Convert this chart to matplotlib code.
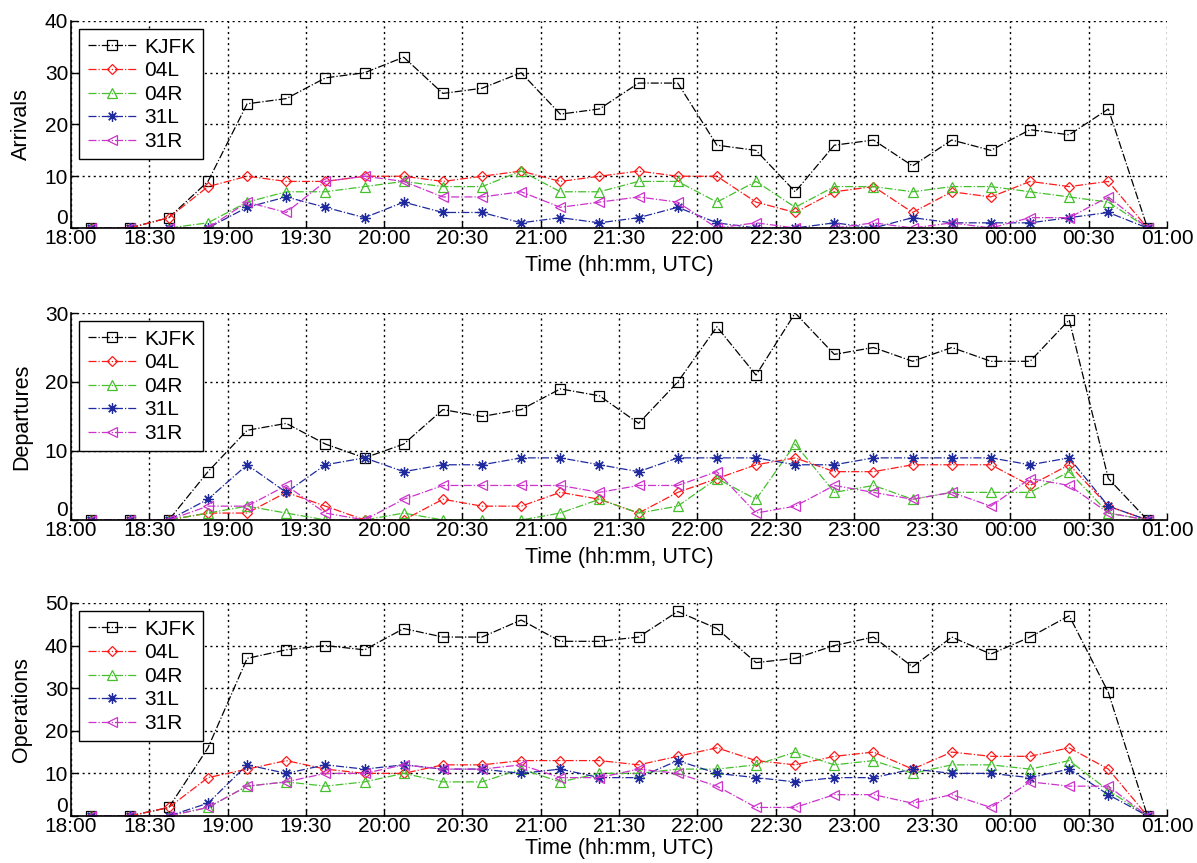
import matplotlib
matplotlib.use("Agg")
from matplotlib import pyplot as plt

plt.rcParams["font.family"] = ["Liberation Sans", "DejaVu Sans"]
plt.rcParams["font.size"] = 15

# 15-minute bin centres (UTC)
TIMES = [
    "18:07:30", "18:22:30", "18:37:30", "18:52:30", "19:07:30", "19:22:30", "19:37:30",
    "19:52:30", "20:07:30", "20:22:30", "20:37:30", "20:52:30", "21:07:30", "21:22:30",
    "21:37:30", "21:52:30", "22:07:30", "22:22:30", "22:37:30", "22:52:30", "23:07:30",
    "23:22:30", "23:37:30", "23:52:30", "00:07:30", "00:22:30", "00:37:30", "00:52:30",
]
TICK_LABELS = [
    "18:00", "18:30", "19:00", "19:30", "20:00", "20:30", "21:00", "21:30",
    "22:00", "22:30", "23:00", "23:30", "00:00", "00:30", "01:00",
]

ARR_KJFK = [0, 0, 2, 9, 24, 25, 29, 30, 33, 26, 27, 30, 22, 23, 28, 28, 16, 15, 7, 16, 17, 12, 17, 15, 19, 18, 23, 0]
ARR_04L = [0, 0, 2, 8, 10, 9, 9, 10, 10, 9, 10, 11, 9, 10, 11, 10, 10, 5, 3, 7, 8, 3, 7, 6, 9, 8, 9, 0]
ARR_04R = [0, 0, 0, 1, 5, 7, 7, 8, 9, 8, 8, 11, 7, 7, 9, 9, 5, 9, 4, 8, 8, 7, 8, 8, 7, 6, 5, 0]
ARR_31L = [0, 0, 0, 0, 4, 6, 4, 2, 5, 3, 3, 1, 2, 1, 2, 4, 1, 0, 0, 1, 0, 2, 1, 1, 1, 2, 3, 0]
ARR_31R = [0, 0, 0, 0, 5, 3, 9, 10, 9, 6, 6, 7, 4, 5, 6, 5, 0, 1, 0, 0, 1, 0, 1, 0, 2, 2, 6, 0]

DEP_KJFK = [0, 0, 0, 7, 13, 14, 11, 9, 11, 16, 15, 16, 19, 18, 14, 20, 28, 21, 30, 24, 25, 23, 25, 23, 23, 29, 6, 0]
DEP_04L = [0, 0, 0, 1, 1, 4, 2, 0, 0, 3, 2, 2, 4, 3, 1, 4, 6, 8, 9, 7, 7, 8, 8, 8, 5, 8, 2, 0]
DEP_04R = [0, 0, 0, 1, 2, 1, 0, 0, 1, 0, 0, 0, 1, 3, 1, 2, 6, 3, 11, 4, 5, 3, 4, 4, 4, 7, 1, 0]
DEP_31L = [0, 0, 0, 3, 8, 4, 8, 9, 7, 8, 8, 9, 9, 8, 7, 9, 9, 9, 8, 8, 9, 9, 9, 9, 8, 9, 2, 0]
DEP_31R = [0, 0, 0, 2, 2, 5, 1, 0, 3, 5, 5, 5, 5, 4, 5, 5, 7, 1, 2, 5, 4, 3, 4, 2, 6, 5, 1, 0]

OPS_KJFK = [0, 0, 2, 16, 37, 39, 40, 39, 44, 42, 42, 46, 41, 41, 42, 48, 44, 36, 37, 40, 42, 35, 42, 38, 42, 47, 29, 0]
OPS_04L = [0, 0, 2, 9, 11, 13, 11, 10, 10, 12, 12, 13, 13, 13, 12, 14, 16, 13, 12, 14, 15, 11, 15, 14, 14, 16, 11, 0]
OPS_04R = [0, 0, 0, 2, 7, 8, 7, 8, 10, 8, 8, 11, 8, 10, 10, 11, 11, 12, 15, 12, 13, 10, 12, 12, 11, 13, 6, 0]
OPS_31L = [0, 0, 0, 3, 12, 10, 12, 11, 12, 11, 11, 10, 11, 9, 9, 13, 10, 9, 8, 9, 9, 11, 10, 10, 9, 11, 5, 0]
OPS_31R = [0, 0, 0, 2, 7, 8, 10, 10, 12, 11, 11, 12, 9, 9, 11, 10, 7, 2, 2, 5, 5, 3, 5, 2, 8, 7, 7, 0]

LABELS = ["KJFK", "04L", "04R", "31L", "31R"]


def minutes_after_start(stamp, start_hour=18):
    h, m, s = (int(v) for v in stamp.split(":"))
    return ((h - start_hour) % 24) * 60 + m + s / 60.0


x = [minutes_after_start(t) for t in TIMES]
tick_pos = [minutes_after_start(t + ":00") for t in TICK_LABELS]
tick_pos[-1] = 420  # 01:00 closes the window

STYLES = [
    dict(color="black", marker="s", ms=6.5),
    dict(color="#ff1a1a", marker="D", ms=5.2),
    dict(color="#45c02c", marker="^", ms=7),
    dict(color="#1f2a9e", marker=(8, 2, 0), ms=7.5),
    dict(color="#cc33cc", marker="<", ms=7),
]

# (y label, series, y max, axes rect, x-label pad)
panels = [
    ("Arrivals", [ARR_KJFK, ARR_04L, ARR_04R, ARR_31L, ARR_31R], 40, [0.0593, 0.7358, 0.9157, 0.2399], 5),
    ("Departures", [DEP_KJFK, DEP_04L, DEP_04R, DEP_31L, DEP_31R], 30, [0.0593, 0.3975, 0.9157, 0.2398], 5),
    ("Operations", [OPS_KJFK, OPS_04L, OPS_04R, OPS_31L, OPS_31R], 50, [0.0593, 0.0545, 0.9157, 0.2468], 1),
]

fig = plt.figure(figsize=(11.97, 8.63), dpi=100)

for ylabel, series, ymax, rect, xpad in panels:
    ax = fig.add_axes(rect)
    for values, label, st in zip(series, LABELS, STYLES):
        ax.plot(x, values, linestyle="-.", linewidth=0.9, color=st["color"],
                marker=st["marker"], markersize=st["ms"], markerfacecolor="none",
                markeredgecolor=st["color"], markeredgewidth=0.9, label=label)
    ax.set_xlim(0, 420)
    ax.set_ylim(0, ymax)
    ax.set_xticks(tick_pos)
    ax.set_xticklabels(TICK_LABELS)
    ax.set_yticks(range(0, ymax + 1, 10))
    ax.tick_params(direction="in", length=5, width=1, pad=2, labelsize=15)
    ax.tick_params(axis="x", pad=1)
    # lift the zero label so it sits above the time labels
    ax.get_yticklabels()[0].set_verticalalignment("bottom")
    ax.grid(True, linestyle=(0, (1.5, 2.5)), color="black", linewidth=1.0)
    ax.spines["top"].set_visible(False)
    ax.spines["right"].set_visible(False)
    ax.spines["left"].set_linewidth(1.2)
    ax.spines["bottom"].set_linewidth(1.2)
    ax.set_ylabel(ylabel, fontsize=15.5, labelpad=9)
    ax.set_xlabel("Time (hh:mm, UTC)", fontsize=15.5, labelpad=xpad)
    leg = ax.legend(loc="upper left", fontsize=15, fancybox=False, framealpha=1,
                    edgecolor="black", handlelength=2.3, handletextpad=0.4,
                    labelspacing=0.22, borderpad=0.4, borderaxespad=0.4)
    leg.get_frame().set_linewidth(1.0)

fig.savefig("out.png", dpi=100)
